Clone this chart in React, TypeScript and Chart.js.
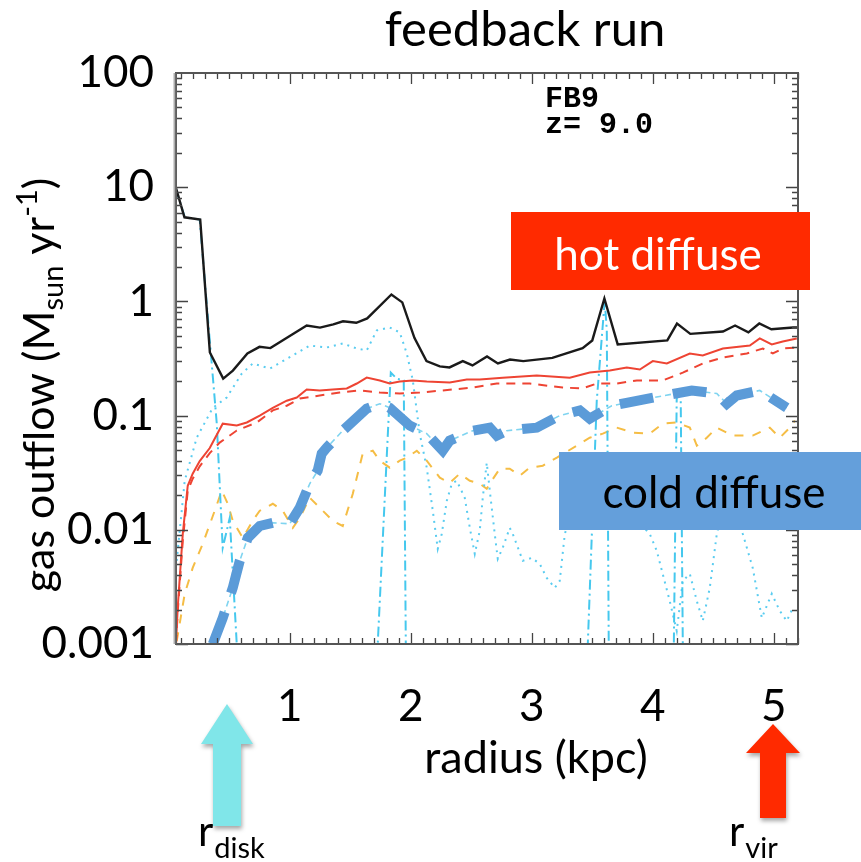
import React, { useEffect, useRef } from "react";
import { Chart, registerables } from "chart.js";

Chart.register(...registerables);

// ---------- axis ticks ----------
const yTickValues = [0.001, 0.01, 0.1, 1, 10, 100];
const yTickLabels = ["0.001", "0.01", "0.1", "1", "10", "100"];
const xTickValues = [1, 2, 3, 4, 5];
const xTickLabels = ["1", "2", "3", "4", "5"];

// ---------- texts ----------
const titleText = "feedback run";
const xTitle = "radius (kpc)";
const runLabel = "FB9";
const redshiftLabel = "z= 9.0";
const hotLabel = "hot diffuse";
const coldLabel = "cold diffuse";

// ---------- series: total outflow (black solid) ----------
const totalR = [0.06, 0.13, 0.26, 0.34, 0.45, 0.53, 0.65, 0.75, 0.84, 0.94, 1.14, 1.25, 1.36, 1.44, 1.55, 1.64, 1.84, 1.93, 2.03, 2.13, 2.24, 2.32, 2.43, 2.51, 2.63, 2.72, 2.82, 2.93, 3.17, 3.42, 3.5, 3.6, 3.71, 4.12, 4.2, 4.31, 4.58, 4.68, 4.79, 4.88, 4.98, 5.16, 5.2];
const totalF = [9.8, 5.45, 5.2, 0.357, 0.211, 0.248, 0.35, 0.4, 0.39, 0.455, 0.615, 0.59, 0.63, 0.67, 0.65, 0.71, 1.15, 0.98, 0.48, 0.3, 0.27, 0.264, 0.3, 0.275, 0.33, 0.286, 0.31, 0.3, 0.32, 0.39, 0.455, 1.06, 0.42, 0.455, 0.64, 0.52, 0.545, 0.615, 0.535, 0.64, 0.57, 0.59, 0.59];

// ---------- hot (red solid) ----------
const hotR = [0.06, 0.074, 0.116, 0.157, 0.198, 0.256, 0.339, 0.446, 0.562, 0.645, 0.752, 0.86, 0.975, 1.058, 1.14, 1.248, 1.355, 1.471, 1.554, 1.636, 1.744, 1.826, 1.909, 2.017, 2.132, 2.322, 2.463, 2.57, 2.76, 3.041, 3.314, 3.479, 3.645, 3.785, 3.893, 4.0, 4.116, 4.306, 4.413, 4.579, 4.802, 4.884, 4.983, 5.074, 5.19];
const hotF = [0.001, 0.00207, 0.0092, 0.0243, 0.031, 0.04, 0.052, 0.085, 0.082, 0.087, 0.1, 0.117, 0.135, 0.144, 0.169, 0.166, 0.169, 0.173, 0.191, 0.215, 0.203, 0.191, 0.199, 0.203, 0.199, 0.195, 0.207, 0.207, 0.215, 0.224, 0.215, 0.238, 0.248, 0.264, 0.253, 0.3, 0.286, 0.35, 0.336, 0.387, 0.411, 0.474, 0.42, 0.446, 0.474];

// ---------- hot diffuse (red dashed) ----------
const hotDiffR = [0.06, 0.074, 0.116, 0.157, 0.198, 0.256, 0.339, 0.421, 0.562, 0.727, 0.86, 0.975, 1.083, 1.248, 1.413, 1.579, 1.744, 1.909, 2.074, 2.264, 2.512, 2.711, 2.983, 3.256, 3.421, 3.537, 3.702, 3.868, 4.083, 4.248, 4.413, 4.579, 4.777, 4.909, 4.992, 5.074, 5.19];
const hotDiffF = [0.001, 0.0019, 0.008, 0.022, 0.028, 0.036, 0.047, 0.058, 0.074, 0.087, 0.111, 0.122, 0.141, 0.15, 0.159, 0.166, 0.159, 0.156, 0.159, 0.166, 0.176, 0.191, 0.191, 0.176, 0.173, 0.191, 0.191, 0.203, 0.203, 0.238, 0.286, 0.323, 0.35, 0.387, 0.35, 0.387, 0.395];

// ---------- cyan dotted ----------
const dotR = [0.066, 0.132, 0.231, 0.364, 0.479, 0.603, 0.694, 0.835, 0.942, 1.165, 1.306, 1.438, 1.554, 1.636, 1.719, 1.826, 1.909, 1.967, 2.017, 2.074, 2.132, 2.182, 2.223, 2.256, 2.298, 2.339, 2.38, 2.446, 2.488, 2.529, 2.57, 2.595, 2.628, 2.653, 2.694, 2.719, 2.76, 2.818, 2.843, 2.926, 3.0, 3.066, 3.124, 3.19, 3.231, 3.273, 3.289, 3.479, 3.727, 3.975, 4.033, 4.14, 4.198, 4.248, 4.306, 4.364, 4.413, 4.471, 4.529, 4.636, 4.744, 4.826, 4.901, 4.983, 5.05, 5.107, 5.157];
const dotF = [0.00535, 0.0269, 0.064, 0.117, 0.144, 0.233, 0.286, 0.258, 0.3, 0.411, 0.395, 0.428, 0.387, 0.372, 0.557, 0.591, 0.535, 0.35, 0.203, 0.0695, 0.035, 0.0147, 0.0068, 0.0092, 0.018, 0.0253, 0.0269, 0.0191, 0.0104, 0.00615, 0.0098, 0.0191, 0.0387, 0.022, 0.0092, 0.00557, 0.00695, 0.0104, 0.0092, 0.00535, 0.00568, 0.00503, 0.00379, 0.0031, 0.00357, 0.0092, 0.0104, 0.027, 0.018, 0.0092, 0.00654, 0.00238, 0.0013, 0.00357, 0.00411, 0.00238, 0.00159, 0.0031, 0.0092, 0.025, 0.0092, 0.00464, 0.00169, 0.00275, 0.00195, 0.00159, 0.00207];

// ---------- cyan dash-dot ----------
const dashDotR = [0.058, 0.132, 0.256, 0.339, 0.397, 0.446, 0.504, 0.562, 1.727, 1.835, 1.884, 1.942, 1.959, 3.463, 3.537, 3.603, 3.62, 3.636, 4.174, 4.198, 4.231, 4.248, 5.2];
const dashDotF = [9.8, 5.45, 5.2, 0.455, 0.085, 0.00695, 0.0127, 0.001, 0.001, 0.238, 0.211, 0.203, 0.001, 0.001, 0.135, 1.02, 0.557, 0.001, 0.001, 0.15, 0.135, 0.001, 0.001];

// ---------- orange dashed ----------
const orangeR = [0.066, 0.132, 0.198, 0.281, 0.38, 0.438, 0.488, 0.529, 0.612, 0.694, 0.752, 0.86, 0.942, 1.025, 1.083, 1.165, 1.273, 1.355, 1.438, 1.521, 1.603, 1.686, 1.744, 1.826, 1.909, 1.967, 2.05, 2.132, 2.24, 2.322, 2.405, 2.488, 2.57, 2.628, 2.669, 2.736, 2.818, 2.901, 2.983, 3.091, 3.207, 3.479, 3.587, 3.702, 3.835, 3.975, 4.083, 4.198, 4.306, 4.364, 4.446, 4.529, 4.661, 4.826, 4.967, 5.05, 5.132, 5.174];
const orangeF = [0.00106, 0.00275, 0.00464, 0.00754, 0.0147, 0.022, 0.0169, 0.012, 0.0085, 0.012, 0.0147, 0.0169, 0.0147, 0.0104, 0.0127, 0.0191, 0.0147, 0.012, 0.0108, 0.0207, 0.0464, 0.0493, 0.0403, 0.035, 0.0403, 0.0428, 0.0493, 0.0403, 0.0286, 0.0258, 0.031, 0.0269, 0.0253, 0.0229, 0.0269, 0.0343, 0.0343, 0.0298, 0.035, 0.0364, 0.0428, 0.064, 0.0695, 0.0785, 0.071, 0.0695, 0.085, 0.087, 0.0785, 0.0546, 0.064, 0.0785, 0.0668, 0.0668, 0.0785, 0.064, 0.0785, 0.0904];

// ---------- cold diffuse (thick blue dashed) ----------
const coldR = [0.364, 0.446, 0.529, 0.587, 0.653, 0.752, 0.86, 1.0, 1.083, 1.165, 1.231, 1.264, 1.306, 1.438, 1.636, 1.744, 1.826, 1.992, 2.132, 2.264, 2.322, 2.512, 2.653, 2.711, 2.793, 3.041, 3.231, 3.397, 3.479, 3.661, 3.793, 4.099, 4.322, 4.529, 4.612, 4.694, 4.884, 5.107];
const coldF = [0.001, 0.00169, 0.0031, 0.00535, 0.0085, 0.0108, 0.0115, 0.0113, 0.0156, 0.0253, 0.033, 0.0464, 0.0524, 0.0738, 0.115, 0.127, 0.117, 0.0817, 0.0695, 0.0493, 0.0604, 0.0738, 0.0785, 0.0668, 0.0738, 0.0785, 0.1, 0.111, 0.094, 0.122, 0.13, 0.15, 0.166, 0.156, 0.127, 0.15, 0.166, 0.117];

const FONT = "Lato, 'Open Sans', sans-serif";

function pts(xs: number[], ys: number[]) {
  return xs.map((x, i) => ({ x, y: ys[i] }));
}

const framePlugin = {
  id: "frame",
  afterDatasetsDraw(chart: any) {
    const { ctx, chartArea: a, scales } = chart;
    const x = scales.x;
    const y = scales.y;
    ctx.save();
    ctx.strokeStyle = "#444";
    ctx.lineWidth = 1.3;
    ctx.beginPath();
    for (let i = 1; i <= 52; i++) {
      const v = i / 10;
      if (v < x.min || v > x.max) continue;
      const px = Math.round(x.getPixelForValue(v)) + 0.5;
      const len = i % 10 === 0 ? 11 : 6;
      ctx.moveTo(px, a.top);
      ctx.lineTo(px, a.top + len);
      ctx.moveTo(px, a.bottom);
      ctx.lineTo(px, a.bottom - len);
    }
    for (let d = -3; d <= 1; d++) {
      for (let m = 1; m <= 9; m++) {
        const v = m * Math.pow(10, d);
        const py = Math.round(y.getPixelForValue(v)) + 0.5;
        const len = m === 1 ? 12 : 6;
        ctx.moveTo(a.left, py);
        ctx.lineTo(a.left + len, py);
        ctx.moveTo(a.right, py);
        ctx.lineTo(a.right - len, py);
      }
    }
    ctx.stroke();
    ctx.lineWidth = 2;
    ctx.strokeStyle = "#555";
    ctx.strokeRect(a.left, a.top, a.right - a.left, a.bottom - a.top);
    ctx.strokeStyle = "rgba(120,120,120,0.6)";
    ctx.lineWidth = 3;
    ctx.beginPath();
    ctx.moveTo(a.left - 1, a.top);
    ctx.lineTo(a.left - 1, a.bottom);
    ctx.stroke();
    ctx.restore();
  },
};

function drawArrow(ctx: CanvasRenderingContext2D, cx: number, tip: number, base: number, bottom: number, headHalf: number, shaftHalf: number, color: string) {
  ctx.save();
  ctx.shadowColor = "rgba(0,0,0,0.35)";
  ctx.shadowBlur = 4;
  ctx.shadowOffsetX = 1;
  ctx.shadowOffsetY = 3;
  ctx.fillStyle = color;
  ctx.beginPath();
  ctx.moveTo(cx, tip);
  ctx.lineTo(cx + headHalf, base);
  ctx.lineTo(cx + shaftHalf, base);
  ctx.lineTo(cx + shaftHalf, bottom);
  ctx.lineTo(cx - shaftHalf, bottom);
  ctx.lineTo(cx - shaftHalf, base);
  ctx.lineTo(cx - headHalf, base);
  ctx.closePath();
  ctx.fill();
  ctx.restore();
}

function drawSubLabel(ctx: CanvasRenderingContext2D, x: number, baseline: number, main: string, sub: string) {
  ctx.textAlign = "left";
  ctx.textBaseline = "alphabetic";
  ctx.font = `42px ${FONT}`;
  ctx.fillText(main, x, baseline);
  const w = ctx.measureText(main).width;
  ctx.font = `29px ${FONT}`;
  ctx.fillText(sub, x + w + 1, baseline + 12);
}

const annotationPlugin = {
  id: "annotations",
  afterDraw(chart: any) {
    const ctx: CanvasRenderingContext2D = chart.ctx;
    ctx.save();
    ctx.fillStyle = "#000";
    ctx.textBaseline = "alphabetic";

    // title
    ctx.textAlign = "center";
    ctx.font = `49px ${FONT}`;
    ctx.fillText(titleText, 525, 46);

    // x axis title
    ctx.font = `45px ${FONT}`;
    ctx.fillText(xTitle, 536, 773);

    // y axis title with subscript / superscript
    ctx.save();
    ctx.translate(40, 385);
    ctx.rotate(-Math.PI / 2);
    ctx.textAlign = "left";
    const parts: [string, number, number][] = [
      ["gas outflow (M", 43, 0],
      ["sun", 29, 9],
      [" yr", 43, 0],
      ["-1", 29, -17],
      [")", 43, 0],
    ];
    let total = 0;
    for (const [t, s] of parts) {
      ctx.font = `${s}px ${FONT}`;
      total += ctx.measureText(t).width;
    }
    let cx = -total / 2;
    for (const [t, s, dy] of parts) {
      ctx.font = `${s}px ${FONT}`;
      ctx.fillText(t, cx, 14 + dy);
      cx += ctx.measureText(t).width;
    }
    ctx.restore();

    // run label
    ctx.textAlign = "left";
    ctx.font = `bold 30px 'Liberation Mono', 'DejaVu Sans Mono', monospace`;
    ctx.fillText(runLabel, 545, 107);
    ctx.fillText(redshiftLabel, 545, 133);

    // label boxes
    ctx.fillStyle = "#FF2A00";
    ctx.fillRect(511, 212, 299, 78);
    ctx.fillStyle = "#FFFFFF";
    ctx.textAlign = "center";
    ctx.font = `44px ${FONT}`;
    ctx.fillText(hotLabel, 658, 270);

    ctx.fillStyle = "#649FDB";
    ctx.fillRect(559, 452, 302, 78);
    ctx.fillStyle = "#000";
    ctx.fillText(coldLabel, 714, 508);

    // arrows
    drawArrow(ctx, 227, 704, 744, 826, 26, 14, "#80E6E9");
    drawArrow(ctx, 773, 724, 753, 818, 27, 13, "#FF2A00");

    ctx.fillStyle = "#000";
    drawSubLabel(ctx, 198, 846, "r", "disk");
    drawSubLabel(ctx, 729, 846, "r", "vir");
    ctx.restore();
  },
};

export default function App() {
  const ref = useRef<HTMLCanvasElement>(null);
  useEffect(() => {
    const base = { pointRadius: 0, tension: 0, fill: false, clip: 0 };
    const chart = new Chart(ref.current as HTMLCanvasElement, {
      type: "line",
      data: {
        datasets: [
          { ...base, label: "cold diffuse", data: pts(coldR, coldF), borderColor: "#5B9BD8", borderWidth: 10, borderDash: [34, 20], borderCapStyle: "butt" },
          { ...base, label: "cold diffuse (thin)", data: pts(coldR, coldF), borderColor: "#7FD4F0", borderWidth: 1.6, borderDash: [6, 4] },
          { ...base, label: "total", data: pts(totalR, totalF), borderColor: "#1a1a1a", borderWidth: 2.4 },
          { ...base, label: "hot", data: pts(hotR, hotF), borderColor: "#EE4433", borderWidth: 2 },
          { ...base, label: "hot diffuse", data: pts(hotDiffR, hotDiffF), borderColor: "#EE4433", borderWidth: 2, borderDash: [9, 7] },
          { ...base, label: "dash-dot", data: pts(dashDotR, dashDotF), borderColor: "#45C8EE", borderWidth: 2, borderDash: [10, 4, 2, 4] },
          { ...base, label: "dotted", data: pts(dotR, dotF), borderColor: "#5ACCF0", borderWidth: 2, borderDash: [2, 5] },
          { ...base, label: "orange", data: pts(orangeR, orangeF), borderColor: "#F5BD45", borderWidth: 2, borderDash: [9, 9] },
        ] as any,
      },
      options: {
        animation: false,
        responsive: false,
        maintainAspectRatio: false,
        layout: { padding: { top: 73, right: 63, left: 0, bottom: 0 } },
        plugins: { legend: { display: false }, tooltip: { enabled: false }, title: { display: false } },
        scales: {
          x: {
            type: "linear",
            min: 0.06,
            max: 5.2,
            grid: { display: false },
            border: { display: false },
            afterBuildTicks: (s: any) => {
              s.ticks = xTickValues.map((v) => ({ value: v }));
            },
            afterFit: (s: any) => {
              s.height = 218;
            },
            ticks: {
              autoSkip: false,
              maxRotation: 0,
              padding: 28,
              color: "#000",
              font: { family: FONT, size: 44 },
              callback: (v: any) => {
                const i = xTickValues.indexOf(Number(v));
                return i >= 0 ? xTickLabels[i] : "";
              },
            },
          },
          y: {
            type: "logarithmic",
            min: 0.001,
            max: 100,
            grid: { display: false },
            border: { display: false },
            afterBuildTicks: (s: any) => {
              s.ticks = yTickValues.map((v) => ({ value: v }));
            },
            afterFit: (s: any) => {
              s.width = 176;
            },
            ticks: {
              autoSkip: false,
              padding: 14,
              color: "#000",
              font: { family: FONT, size: 44 },
              callback: (v: any) => {
                const i = yTickValues.findIndex((t) => Math.abs(t - Number(v)) / t < 1e-6);
                return i >= 0 ? yTickLabels[i] : "";
              },
            },
          },
        },
      } as any,
      plugins: [framePlugin, annotationPlugin],
    });
    return () => chart.destroy();
  }, []);
  return (
    <div style={{ position: "absolute", left: 0, top: 0, width: 861, height: 862 }}>
      <canvas ref={ref} width={861} height={862} style={{ display: "block", width: 861, height: 862 }} />
    </div>
  );
}
